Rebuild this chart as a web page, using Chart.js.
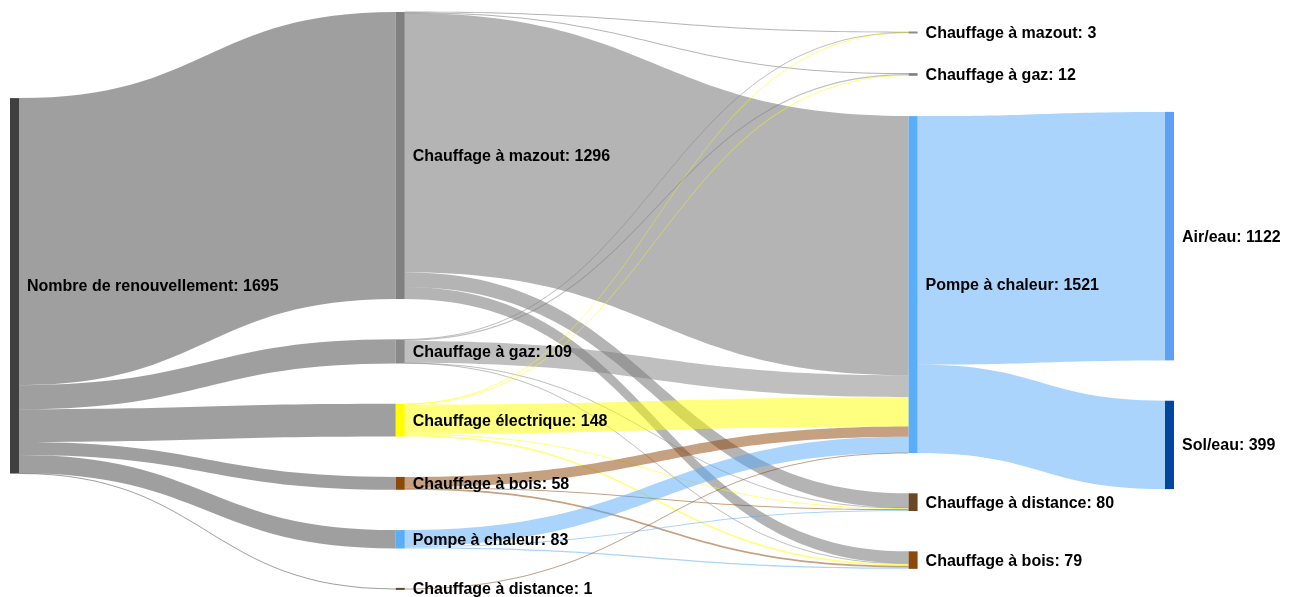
<!DOCTYPE html>
<html>
<head>
<meta charset="utf-8">
<script src="https://cdn.jsdelivr.net/npm/chart.js@4.4.1/dist/chart.umd.min.js"></script>
<style>
  html, body { margin: 0; padding: 0; background: #fff; }
  #wrap { width: 1292px; height: 597px; }
</style>
</head>
<body>
<div id="wrap"><canvas id="sankey"></canvas></div>
<script>
// noeuds (colonne 0..3)
const nodeNames = [
  'Nombre de renouvellement',
  'Chauffage à mazout', 'Chauffage à gaz', 'Chauffage électrique', 'Chauffage à bois', 'Pompe à chaleur', 'Chauffage à distance',
  'Chauffage à mazout', 'Chauffage à gaz', 'Pompe à chaleur', 'Chauffage à distance', 'Chauffage à bois',
  'Air/eau', 'Sol/eau'
];
const nodeColumns = [0, 1, 1, 1, 1, 1, 1, 2, 2, 2, 2, 2, 3, 3];

// flux
const linkFrom   = [0, 0, 0, 0, 0, 0,   1, 1, 1, 1, 1,   2, 2, 2, 2, 2,   3, 3, 3, 3, 3,   4, 4, 4,   5, 5, 5,   6,   9, 9];
const linkTo     = [1, 2, 3, 4, 5, 6,   7, 8, 9, 10, 11, 7, 8, 9, 10, 11, 7, 8, 9, 10, 11, 9, 10, 11, 9, 10, 11, 9,   12, 13];
const linkValues = [1296, 109, 148, 58, 83, 1,
  1, 4, 1170, 66, 55,
  1, 6, 99, 1, 2,
  1, 2, 132, 5, 8,
  47, 3, 8,
  72, 5, 6,
  1,
  1122, 399];

// styles
const nodeColors = ['#404040',
  '#808080', '#8a8a8a', '#ffff00', '#8b4a0a', '#5aadf8', '#6b4423',
  '#8c8c8c', '#808080', '#5aadf8', '#6b4726', '#8b4a0a',
  '#5ea1f3', '#00479d'];
const linkColors = ['rgba(64,64,64,0.5)',
  'rgba(105,105,105,0.5)', 'rgba(128,128,128,0.5)', 'rgba(255,255,0,0.5)', 'rgba(139,67,3,0.5)', 'rgba(85,170,247,0.5)', 'rgba(120,70,30,0.5)',
  'rgba(128,128,128,0.5)', 'rgba(128,128,128,0.5)', 'rgba(85,170,247,0.5)', 'rgba(107,70,38,0.5)', 'rgba(139,67,3,0.5)',
  'rgba(94,161,243,0.5)', 'rgba(0,71,157,0.5)'];
const columnPos = [0, 0.334, 0.778, 1];
const nodeWidth = 9;
const nodePad = 182;      // en unités de valeur
const iterations = 32;

// ---- layout (style d3-sankey) ----
const nodes = nodeNames.map((name, i) => ({ i, name, col: nodeColumns[i], inL: [], outL: [] }));
const links = linkValues.map((v, k) => {
  const l = { s: nodes[linkFrom[k]], t: nodes[linkTo[k]], v };
  l.s.outL.push(l);
  l.t.inL.push(l);
  return l;
});
const sumV = arr => arr.reduce((a, l) => a + l.v, 0);
nodes.forEach(n => { n.value = Math.max(sumV(n.inL), sumV(n.outL)); });

const cols = [];
nodes.forEach(n => (cols[n.col] = cols[n.col] || []).push(n));
const yMax = Math.max(...cols.map(c => c.reduce((a, n) => a + n.value, 0) + (c.length - 1) * nodePad));

const center = n => n.y + n.value / 2;

function resolve(col) {
  const blocks = [];
  col.forEach(n => {
    const w = Math.max(n.value, 1e-6);
    blocks.push({ nodes: [n], w, sum: w * n.y, h: n.value });
    while (blocks.length > 1) {
      const a = blocks[blocks.length - 2], c = blocks[blocks.length - 1];
      if (c.sum / c.w < a.sum / a.w + a.h + nodePad) {
        const shift = a.h + nodePad;
        a.sum += c.sum - c.w * shift;
        a.w += c.w;
        a.nodes.push(...c.nodes);
        a.h += nodePad + c.h;
        blocks.pop();
      } else break;
    }
  });
  // une colonne entièrement soudée est centrée
  if (blocks.length === 1 && col.length > 1) blocks[0].sum = blocks[0].w * (yMax - blocks[0].h) / 2;
  blocks.forEach(b => {
    let y = b.sum / b.w;
    b.nodes.forEach(n => { n.y = y; y += n.value + nodePad; });
  });
  let y0 = 0;
  col.forEach(n => { if (n.y < y0) n.y = y0; y0 = n.y + n.value + nodePad; });
  let yb = yMax;
  for (let i = col.length - 1; i >= 0; i--) {
    const n = col[i];
    if (n.y + n.value > yb) n.y = yb - n.value;
    yb = n.y - nodePad;
  }
}

function relaxLeftToRight(alpha) {
  cols.forEach(col => col.forEach(n => {
    if (!n.inL.length) return;
    const yc = n.inL.reduce((a, l) => a + center(l.s) * l.v, 0) / sumV(n.inL);
    n.y += (yc - center(n)) * alpha;
  }));
}
function relaxRightToLeft(alpha) {
  cols.slice().reverse().forEach(col => col.forEach(n => {
    if (!n.outL.length) return;
    const yc = n.outL.reduce((a, l) => a + center(l.t) * l.v, 0) / sumV(n.outL);
    n.y += (yc - center(n)) * alpha;
  }));
}

cols.forEach(c => { let y = 0; c.forEach(n => { n.y = y; y += n.value + nodePad; }); });
cols.forEach(resolve);
let alpha = 1;
for (let it = 0; it < iterations; it++) {
  alpha *= 0.99;
  relaxRightToLeft(alpha);
  cols.forEach(resolve);
  relaxLeftToRight(alpha);
  cols.forEach(resolve);
}

nodes.forEach(n => {
  n.outL.sort((a, b) => a.t.y - b.t.y);
  n.inL.sort((a, b) => a.s.y - b.s.y);
  let o = 0;
  n.outL.forEach(l => { l.sy = o; o += l.v; });
  o = 0;
  n.inL.forEach(l => { l.ty = o; o += l.v; });
});

// ---- dessin ----
const sankeyPlugin = {
  id: 'sankey',
  afterDatasetsDraw(chart) {
    const { ctx, scales: { x, y } } = chart;
    const band = (v0, v1) => {
      let a = y.getPixelForValue(v0), b = y.getPixelForValue(v1);
      if (b - a < 1) { const m = (a + b) / 2; a = m - 0.5; b = m + 0.5; }
      return [a, b];
    };
    ctx.save();
    links.forEach(l => {
      const x0 = x.getPixelForValue(columnPos[l.s.col]) + nodeWidth;
      const x1 = x.getPixelForValue(columnPos[l.t.col]);
      const [s0, s1] = band(l.s.y + l.sy, l.s.y + l.sy + l.v);
      const [t0, t1] = band(l.t.y + l.ty, l.t.y + l.ty + l.v);
      const xm = (x0 + x1) / 2;
      ctx.beginPath();
      ctx.moveTo(x0, s0);
      ctx.bezierCurveTo(xm, s0, xm, t0, x1, t0);
      ctx.lineTo(x1, t1);
      ctx.bezierCurveTo(xm, t1, xm, s1, x0, s1);
      ctx.closePath();
      ctx.fillStyle = linkColors[l.s.i];
      ctx.fill();
    });
    nodes.forEach(n => {
      const px = x.getPixelForValue(columnPos[n.col]);
      let [a, b] = band(n.y, n.y + n.value);
      if (b - a < 2) { const m = (a + b) / 2; a = m - 1; b = m + 1; }
      ctx.fillStyle = nodeColors[n.i];
      ctx.fillRect(px, a, nodeWidth, b - a);
    });
    ctx.fillStyle = '#000';
    ctx.font = 'bold 16px "Liberation Sans", Arial, sans-serif';
    ctx.textBaseline = 'middle';
    ctx.textAlign = 'left';
    nodes.forEach(n => {
      const px = x.getPixelForValue(columnPos[n.col]) + nodeWidth + 8;
      const py = y.getPixelForValue(n.y + n.value / 2) + 1;
      ctx.fillText(n.name + ': ' + n.value, px, py);
    });
    ctx.restore();
  }
};

new Chart(document.getElementById('sankey'), {
  type: 'scatter',
  data: { datasets: [{ data: [] }] },
  options: {
    responsive: true,
    maintainAspectRatio: false,
    animation: false,
    layout: { padding: { left: 10, right: 127, top: 12, bottom: 8 } },
    plugins: { legend: { display: false }, tooltip: { enabled: false } },
    scales: {
      x: { type: 'linear', min: 0, max: 1, display: false },
      y: { type: 'linear', min: 0, max: yMax, reverse: true, display: false }
    }
  },
  plugins: [sankeyPlugin]
});
</script>
</body>
</html>
